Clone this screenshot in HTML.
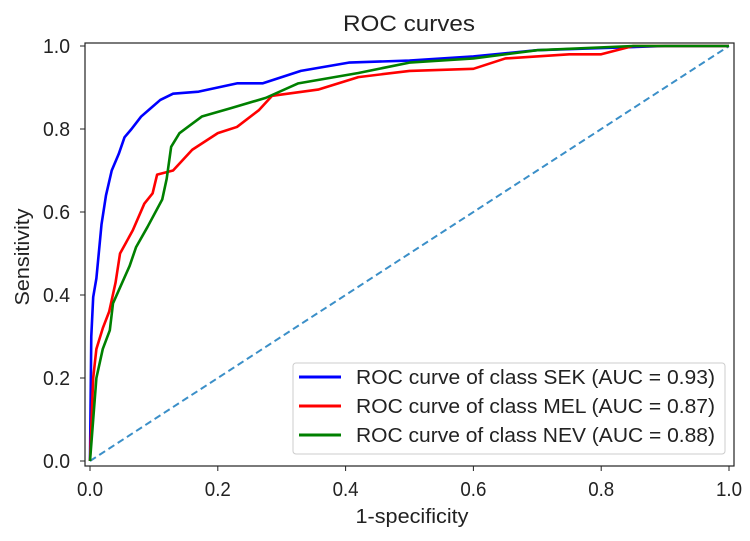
<!DOCTYPE html>
<html><head><meta charset="utf-8"><style>
body{margin:0;background:#fff;}
svg{font-family:"Liberation Sans","DejaVu Sans",sans-serif;}
</style></head><body>
<svg id="chart" width="750" height="536">
<rect x="0" y="0" width="750" height="536" fill="#fff"/>
<text x="409" y="31" font-size="22" text-anchor="middle" textLength="132" lengthAdjust="spacingAndGlyphs" fill="#222">ROC curves</text>
<g id="plot"></g>
<text x="412" y="523" font-size="20" text-anchor="middle" textLength="113" lengthAdjust="spacingAndGlyphs" fill="#222">1-specificity</text>
<text x="29" y="257" font-size="20" text-anchor="middle" textLength="97" lengthAdjust="spacingAndGlyphs" fill="#222" transform="rotate(-90 29 257)">Sensitivity</text>
</svg>
<script>
const xTicks=[0,0.2,0.4,0.6,0.8,1.0];
const yTicks=[0,0.2,0.4,0.6,0.8,1.0];
const seriesNames=["ROC curve of class SEK (AUC = 0.93)","ROC curve of class MEL (AUC = 0.87)","ROC curve of class NEV (AUC = 0.88)"];
const seriesColors=["#0000ff","#ff0000","#008000"];
const sekFpr=[0,0.002,0.005,0.01,0.018,0.025,0.034,0.045,0.054,0.065,0.08,0.095,0.11,0.13,0.17,0.2,0.23,0.27,0.3,0.33,0.405,0.5,0.6,0.7,0.8,0.9,1];
const sekTpr=[0,0.3,0.395,0.44,0.57,0.64,0.70,0.74,0.78,0.80,0.83,0.85,0.87,0.885,0.89,0.9,0.91,0.91,0.925,0.94,0.96,0.965,0.975,0.99,0.995,1,1];
const melFpr=[0,0.003,0.005,0.01,0.02,0.03,0.04,0.047,0.067,0.085,0.098,0.105,0.13,0.16,0.2,0.23,0.264,0.285,0.357,0.42,0.5,0.6,0.65,0.75,0.8,0.85,1];
const melTpr=[0,0.12,0.2,0.27,0.32,0.36,0.43,0.50,0.556,0.62,0.645,0.69,0.70,0.75,0.79,0.805,0.845,0.88,0.895,0.925,0.94,0.945,0.97,0.98,0.98,1,1];
const nevFpr=[0,0.005,0.01,0.02,0.031,0.036,0.062,0.072,0.09,0.113,0.12,0.127,0.14,0.175,0.22,0.275,0.326,0.42,0.5,0.6,0.7,0.85,1];
const nevTpr=[0,0.1,0.2,0.27,0.315,0.38,0.47,0.515,0.564,0.63,0.68,0.757,0.79,0.83,0.85,0.875,0.91,0.935,0.96,0.97,0.99,1,1];
const diagX=[0,1], diagY=[0,1];

const X0=90,X1=729,Y0=461,Y1=46;
const sx=v=>X0+v*(X1-X0), sy=v=>Y0-v*(Y0-Y1);
const NS="http://www.w3.org/2000/svg";
const g=document.getElementById('plot');
function mk(t,a,p){const e=document.createElementNS(NS,t);for(const k in a)e.setAttribute(k,a[k]);(p||g).appendChild(e);return e;}
const fr=mk('rect',{x:85,y:43,width:649,height:423,fill:'none',stroke:'#222','stroke-width':1.2});


xTicks.forEach(t=>{
  const l=mk('line',{x1:sx(t),x2:sx(t),y1:466,y2:471,stroke:'#222'});
  
  
  const tx=mk('text',{x:sx(t),y:496,'font-size':20,'text-anchor':'middle',textLength:26,lengthAdjust:'spacingAndGlyphs',fill:'#222'});
  tx.textContent=t.toFixed(1);
  
  
});
yTicks.forEach(t=>{
  const l=mk('line',{x1:80,x2:85,y1:sy(t),y2:sy(t),stroke:'#222'});
  
  
  const tx=mk('text',{x:70,y:sy(t)+7,'font-size':20,'text-anchor':'end',textLength:27,lengthAdjust:'spacingAndGlyphs',fill:'#222'});
  tx.textContent=t.toFixed(1);
  
  
});
const d=mk('polyline',{points:diagX.map((v,i)=>sx(v)+','+sy(diagY[i])).join(' '),fill:'none',stroke:'#3b8fc8','stroke-width':2,'stroke-dasharray':'7,4'});


const sets=[[sekFpr,sekTpr,'sek-curve'],[melFpr,melTpr,'mel-curve'],[nevFpr,nevTpr,'nev-curve']];
sets.forEach((s,i)=>{
  const p=mk('polyline',{points:s[0].map((v,j)=>sx(v)+','+sy(s[1][j])).join(' '),fill:'none',stroke:seriesColors[i],'stroke-width':2.6,'stroke-linejoin':'round'});
  
  
});
const lg=mk('g',{});


mk('rect',{x:293,y:363,width:432,height:91,rx:3,fill:'#fff','fill-opacity':0.9,stroke:'#ccc'},lg);
seriesNames.forEach((n,i)=>{
  const y=377+i*29;
  const l=mk('line',{x1:299,x2:341,y1:y,y2:y,stroke:seriesColors[i],'stroke-width':3},lg);
  
  
  const t=mk('text',{x:356,y:y+7,'font-size':20,textLength:359,lengthAdjust:'spacingAndGlyphs',fill:'#222'},lg);
  t.textContent=n;
  
  
});
</script>
</body></html>
